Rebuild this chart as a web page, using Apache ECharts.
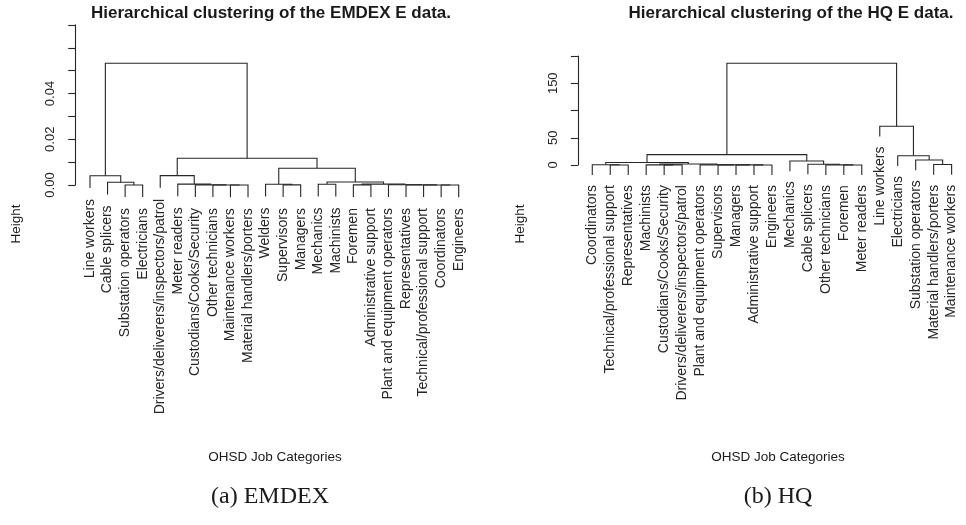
<!DOCTYPE html>
<html>
<head>
<meta charset="utf-8">
<script src="https://cdn.jsdelivr.net/npm/echarts@6/dist/echarts.min.js"></script>
<style>
  html, body { margin: 0; padding: 0; background: #fff; }
  #chart { width: 966px; height: 525px; }
</style>
</head>
<body>
<div id="chart"></div>
<script>
// ---- EMDEX E data: leaves in plotting order, agglomeration steps and their heights ----
// merge rows follow the hclust convention: -k is leaf k (1-based), +k is the result of step k
const emdexLabels = [
  'Line workers', 'Cable splicers', 'Substation operators', 'Electricians',
  'Drivers/deliverers/inspectors/patrol', 'Meter readers', 'Custodians/Cooks/Security',
  'Other technicians', 'Maintenance workers', 'Material handlers/porters', 'Welders',
  'Supervisors', 'Managers', 'Mechanics', 'Machinists', 'Foremen',
  'Administrative support', 'Plant and equipment operators', 'Representatives',
  'Technical/professional support', 'Coordinators', 'Engineers'
];
const emdexMerge = [
  [-21, -22], [-9, -10], [-3, -4], [-20, 1], [-8, 2], [-12, -13], [-16, -17],
  [-19, 4], [-7, 5], [-18, 8], [-14, -15], [7, 10], [-6, 9], [-11, 6],
  [-2, 3], [11, 12], [-1, 15], [-5, 13], [14, 16], [18, 19], [17, 20]
];
const emdexHeight = [
  0.00001, 0.00001, 0.00002, 0.00002, 0.00003, 0.00004, 0.00005,
  0.00005, 0.00006, 0.00008, 0.0003, 0.0004, 0.0004, 0.0003,
  0.0012, 0.0013, 0.00405, 0.0041, 0.0073, 0.0117, 0.0532
];
const emdexTickLabels = ['0.00', '0.02', '0.04'];

// ---- HQ E data ----
const hqLabels = [
  'Coordinators', 'Technical/professional support', 'Representatives', 'Machinists',
  'Custodians/Cooks/Security', 'Drivers/deliverers/inspectors/patrol',
  'Plant and equipment operators', 'Supervisors', 'Managers', 'Administrative support',
  'Engineers', 'Mechanics', 'Cable splicers', 'Other technicians', 'Foremen',
  'Meter readers', 'Line workers', 'Electricians', 'Substation operators',
  'Material handlers/porters', 'Maintenance workers'
];
const hqMerge = [
  [-10, -11], [-15, -16], [-2, -3], [-9, 1], [-5, -6], [-14, 2], [-8, 4],
  [-4, 5], [-7, 7], [-1, 3], [-20, -21], [-13, 6], [8, 9], [10, 13],
  [-12, 12], [-19, 11], [-18, 16], [14, 15], [-17, 17], [18, 19]
];
const hqHeight = [
  0.1, 0.1, 0.1, 0.15, 0.2, 0.2, 0.25,
  0.3, 0.3, 0.5, 0.8, 1.5, 1.8, 4.5,
  7.3, 9.2, 17, 19, 71, 186.6
];
const hqTickLabels = ['0', '50', '150'];

// fraction of the tallest merge by which leaves hang below their parent
const HANG = 0.1;

// Turn a merge table into drawable links (one bracket per step) and leaf ends
function buildTree(merge, height) {
  const hang = HANG * Math.max.apply(null, height);
  const nodeX = [];
  const links = [];
  const leaves = [];
  const child = (ref, h) => ref < 0
    ? { x: -ref, y: h - hang, leaf: -ref }
    : { x: nodeX[ref - 1], y: height[ref - 1] };
  merge.forEach((pair, i) => {
    const h = height[i];
    const a = child(pair[0], h);
    const b = child(pair[1], h);
    nodeX[i] = (a.x + b.x) / 2;
    links.push([a.x, a.y, b.x, b.y, h]);
    [a, b].forEach(c => { if (c.leaf) leaves.push([c.x, c.y, c.leaf - 1]); });
  });
  return { links, leaves };
}

const emdexTree = buildTree(emdexMerge, emdexHeight);
const hqTree = buildTree(hqMerge, hqHeight);

const INK = '#262626';
const SANS = '"Liberation Sans", Arial, sans-serif';

function bracketSeries(tree, idx) {
  return {
    type: 'custom',
    xAxisIndex: idx, yAxisIndex: idx,
    clip: false,
    silent: true,
    data: tree.links,
    encode: { x: [0, 2], y: [1, 3, 4] },
    renderItem(params, api) {
      const top = api.value(4);
      const p1 = api.coord([api.value(0), api.value(1)]);
      const p2 = api.coord([api.value(0), top]);
      const p3 = api.coord([api.value(2), top]);
      const p4 = api.coord([api.value(2), api.value(3)]);
      return {
        type: 'polyline',
        shape: { points: [p1, p2, p3, p4] },
        style: { stroke: INK, lineWidth: 1.1, fill: null }
      };
    }
  };
}

function leafLabelSeries(tree, labels, idx, gap) {
  return {
    type: 'custom',
    xAxisIndex: idx, yAxisIndex: idx,
    clip: false,
    silent: true,
    data: tree.leaves,
    encode: { x: 0, y: 1 },
    renderItem(params, api) {
      const p = api.coord([api.value(0), api.value(1)]);
      return {
        type: 'text',
        x: p[0], y: p[1] + gap,
        rotation: Math.PI / 2,
        style: {
          text: labels[api.value(2)],
          font: '14px ' + SANS,
          fill: INK,
          align: 'right', textAlign: 'right',
          verticalAlign: 'middle', textVerticalAlign: 'middle'
        }
      };
    }
  };
}

function heightAxis(idx, max, interval, shown, decimals) {
  return {
    type: 'value', gridIndex: idx,
    min: 0, max: max, interval: interval,
    axisLine: { show: true, lineStyle: { color: INK, width: 1.1 } },
    axisTick: { show: true, length: 7, lineStyle: { color: INK, width: 1.1 } },
    splitLine: { show: false },
    axisLabel: {
      rotate: 90, margin: 18,
      fontFamily: SANS, fontSize: 13, color: INK,
      formatter: v => {
        const s = v.toFixed(decimals);
        return shown.indexOf(s) >= 0 ? s : '';
      }
    }
  };
}

function txt(x, y, text, font, rotation) {
  return {
    type: 'text', x: x, y: y, rotation: rotation || 0, silent: true,
    style: {
      text: text, font: font, fill: '#1a1a1a',
      align: 'center', textAlign: 'center',
      verticalAlign: 'middle', textVerticalAlign: 'middle'
    }
  };
}

const chart = echarts.init(document.getElementById('chart'), null, { renderer: 'canvas' });

chart.setOption({
  animation: false,
  backgroundColor: '#fff',
  grid: [
    { left: 75.25, width: 398.2, top: 24.9, height: 160.1 },
    { left: 577.9, width: 400.5, top: 56, height: 109 }
  ],
  xAxis: [
    { type: 'value', gridIndex: 0, min: 0.16, max: 22.84, show: false },
    { type: 'value', gridIndex: 1, min: 0.2, max: 21.8, show: false }
  ],
  yAxis: [
    heightAxis(0, 0.07, 0.01, emdexTickLabels, 2),
    heightAxis(1, 200, 50, hqTickLabels, 0)
  ],
  series: [
    bracketSeries(emdexTree, 0),
    leafLabelSeries(emdexTree, emdexLabels, 0, 11),
    bracketSeries(hqTree, 1),
    leafLabelSeries(hqTree, hqLabels, 1, 10)
  ],
  graphic: [
    txt(271, 13, 'Hierarchical clustering of the EMDEX E data.', 'bold 17px ' + SANS),
    txt(791, 13, 'Hierarchical clustering of the HQ E data.', 'bold 17px ' + SANS),
    txt(16.7, 224, 'Height', '13.5px ' + SANS, Math.PI / 2),
    txt(520, 224, 'Height', '13.5px ' + SANS, Math.PI / 2),
    txt(275, 457, 'OHSD Job Categories', '13.5px ' + SANS),
    txt(778, 457, 'OHSD Job Categories', '13.5px ' + SANS),
    txt(270, 497, '(a) EMDEX', '24px "Liberation Serif", "Times New Roman", serif'),
    txt(778, 497, '(b) HQ', '24px "Liberation Serif", "Times New Roman", serif')
  ]
});
</script>
</body>
</html>
